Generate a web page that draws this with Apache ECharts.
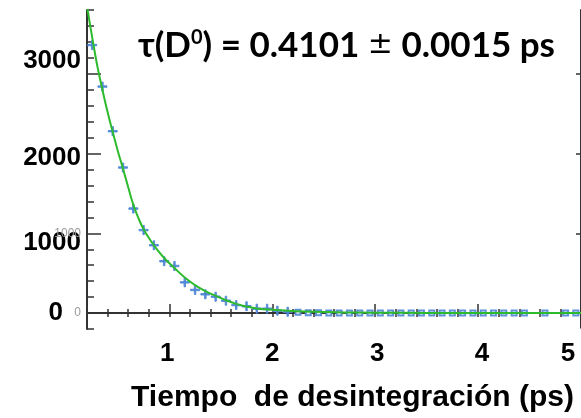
<!DOCTYPE html>
<html>
<head>
<meta charset="utf-8">
<script src="https://cdn.jsdelivr.net/npm/echarts@6/dist/echarts.min.js"></script>
<style>html,body{margin:0;padding:0;background:#fff}#c{width:581px;height:418px}</style>
</head>
<body>
<div id="c"></div>
<script>
// Measured decay times (ps) and counts per bin
const times = [0.25,0.35,0.45,0.55,0.65,0.75,0.85,0.95,1.05,1.15,1.25,1.35,1.45,1.55,1.65,1.75,1.85,1.95,2.05,2.15,
  2.25,2.35,2.45,2.55,2.65,2.75,2.85,2.95,3.05,3.15,3.25,3.35,3.45,3.55,3.65,3.75,3.85,3.95,4.05,4.15,4.25,4.35,4.45,4.65,4.85,4.95];
const counts = [3360,2840,2280,1825,1310,1040,850,650,590,385,290,235,205,155,100,85,55,55,30,16,
  9,3,3,2,1,0,1,0,0,1,0,0,0,1,0,0,0,0,1,0,0,0,0,0,0,0];
// Fitted curve
const fitTimes = [0.20,0.25,0.30,0.35,0.40,0.45,0.50,0.55,0.60,0.65,0.70,0.75,0.80,0.85,0.95,1.05,1.15,1.25,1.35,1.45,1.55,1.65,1.75,1.85,2.0,2.2,2.4,2.7,3.0,3.5,4.0,5.0];
const fitValues = [3850,3460,3100,2800,2520,2270,2030,1810,1580,1360,1190,1050,945,850,690,565,445,350,275,215,160,115,82,58,40,25,15,8,5,2,1,0];
// Tick labels
const xLabels = [1,2,3,4,5];
const yLabels = [0,1000,2000,3000];
const yFaintLabels = [0,1000];
const titleText = {pre:'τ(D', sup:'0', mid:') = 0.4101 ', pm:'±', post:' 0.0015 ps'};
const xName = 'Tiempo  de desintegración (ps)';

const pts = times.map((t,i)=>[t,counts[i]]);
const fit = fitTimes.map((t,i)=>[t,fitValues[i]]);
const crossPath = 'path://M0,4.2h10v1.6h-10z M4.2,0h1.6v10h-1.6z';
const axisCol = '#333';
const chart = echarts.init(document.getElementById('c'), null, {renderer:'canvas'});
const yRich = {
  l0:{padding:[0,18,0,0]}, l1:{padding:[20,0,0,0]}, l2:{padding:[8,0,0,0]}, l3:{padding:[0,0,26,0]}
};
const xRich = {
  x1:{padding:[0,4,0,0]}, x2:{}, x3:{padding:[0,0,0,4]}, x4:{padding:[0,0,0,8]}, x5:{padding:[0,26,0,0]}
};
const bold = {fontFamily:'Liberation Sans, Arial', fontWeight:'bold', color:'#000', fontSize:26};
chart.setOption({
  animation:false,
  backgroundColor:'#fff',
  title:{
    left:133, top:23,
    text:'{a|'+titleText.pre+'}{s|'+titleText.sup+'}{a|'+titleText.mid+'}{p|'+titleText.pm+'}{a|'+titleText.post+'}',
    textStyle:{rich:{
      a:{fontFamily:'Lato', fontWeight:'bold', fontSize:35, color:'#000'},
      s:{fontFamily:'Lato', fontWeight:'bold', fontSize:20, color:'#000', verticalAlign:'top', padding:[0,0,14,0]},
      p:{fontFamily:'DejaVu Sans', fontWeight:'normal', fontSize:30, color:'#000'}
    }}
  },
  grid:{left:87, right:0, top:10, bottom:88, containLabel:false},
  graphic:[
    {type:'rect', shape:{x:157, y:328.5, width:18, height:3}, style:{fill:'#fff'}, z:100},
    {type:'rect', shape:{x:263, y:328.5, width:30, height:3}, style:{fill:'#fff'}, z:100},
    {type:'rect', shape:{x:520, y:328.5, width:61, height:3}, style:{fill:'#fff'}, z:100}
  ],
  xAxis:[
    {type:'value', position:'bottom', min:0.2, max:5, interval:0.2,
     name:xName, nameLocation:'middle', nameGap:54,
     nameTextStyle:Object.assign({}, bold, {fontSize:30, padding:[0,0,0,37]}),
     axisLine:{lineStyle:{color:axisCol, width:2}},
     axisTick:{inside:true, length:4, lineStyle:{color:axisCol, width:1.5}},
     axisLabel:{customValues:xLabels, margin:12,
       formatter:v=>'{x'+v+'|'+v+'}',
       rich:Object.fromEntries(Object.entries(xRich).map(([k,s])=>[k,Object.assign({},bold,s)])), ...bold},
     splitLine:{show:false}},
    {type:'value', position:'bottom', offset:0, min:0.2, max:5,
     axisLine:{show:false}, axisLabel:{show:false}, splitLine:{show:false},
     axisTick:{inside:true, length:9, customValues:xLabels, lineStyle:{color:axisCol, width:1.5}}},
    {type:'value', position:'top', min:0.2, max:5, interval:0.2,
     axisLine:{lineStyle:{color:axisCol, width:2}}, axisLabel:{show:false}, splitLine:{show:false},
     axisTick:{inside:true, length:4, lineStyle:{color:axisCol, width:1.5}}}
  ],
  yAxis:[
    {type:'value', position:'left', min:-200, max:3800, interval:200,
     axisLine:{show:true, lineStyle:{color:axisCol, width:2}},
     axisTick:{show:true, inside:true, length:7, lineStyle:{color:axisCol, width:1.5}},
     axisLabel:{customValues:yLabels, margin:6,
       formatter:v=>'{l'+(v/1000)+'|'+v+'}',
       rich:Object.fromEntries(Object.entries(yRich).map(([k,s])=>[k,Object.assign({},bold,s)])), ...bold},
     splitLine:{show:false}},
    {type:'value', position:'left', offset:0, min:-200, max:3800,
     axisLine:{show:false}, splitLine:{show:false},
     axisTick:{show:true, inside:true, length:14, customValues:yLabels, lineStyle:{color:axisCol, width:1.5}},
     axisLabel:{customValues:yFaintLabels, margin:6, color:'#9a9a9a', fontSize:12, fontFamily:'Liberation Sans',
       formatter:v=>String(v)}},
    {type:'value', position:'right', offset:0, min:-200, max:3800,
     axisLine:{show:true, lineStyle:{color:axisCol, width:2}}, splitLine:{show:false}, axisLabel:{show:false},
     axisTick:{show:true, inside:true, length:5, customValues:yLabels, lineStyle:{color:axisCol, width:1.5}}}
  ],
  series:[
    {type:'scatter', xAxisIndex:0, yAxisIndex:0, data:pts, z:2,
     symbol:(v)=> v[0] > 2.2 ? 'emptyRect' : crossPath,
     symbolSize:(v)=> v[0] > 2.2 ? 5 : 9,
     itemStyle:{color:'#4f86d6', borderColor:'#4f86d6', borderWidth:1, opacity:0.9}},
    {type:'line', xAxisIndex:0, yAxisIndex:0, data:fit, smooth:true, showSymbol:false, z:3, clip:true,
     lineStyle:{color:'#2dbb2d', width:2}}
  ]
});
</script>
</body>
</html>
